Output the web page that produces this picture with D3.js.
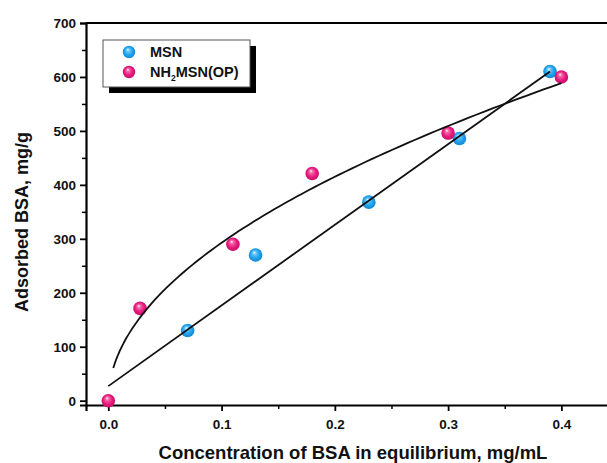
<!DOCTYPE html>
<html>
<head>
<meta charset="utf-8">
<script src="https://cdn.jsdelivr.net/npm/d3@7"></script>
<style>
  body { margin: 0; background: #fff; }
  text { font-family: "Liberation Sans", Arial, sans-serif; font-weight: bold; }
</style>
</head>
<body>
<script>
// values
const msnX = [0.07, 0.13, 0.23, 0.31, 0.39];
const msnY = [130, 270, 368, 486, 610];
const nhX = [0.0, 0.028, 0.11, 0.18, 0.30, 0.40];
const nhY = [0, 171, 290, 421, 496, 600];
// fit lines as drawn: linear a + b*x, power K*x^n
const msnFit = [27, 1495];
const msnFitRange = [0.0, 0.39];
const nhFit = [934, 0.504];
const nhFitRange = [0.0044, 0.40];
const xTicks = [0.0, 0.1, 0.2, 0.3, 0.4];
const yTicks = [0, 100, 200, 300, 400, 500, 600, 700];

const W = 607, H = 463;
const margin = { top: 23, right: -11, bottom: 58, left: 86 };
const width = W - margin.left - margin.right;
const height = H - margin.top - margin.bottom;

const svg = d3.select('body').append('svg')
    .attr('width', W)
    .attr('height', H);

const defs = svg.append('defs');
function ball(id, light, mid, dark) {
    const g = defs.append('radialGradient').attr('id', id)
        .attr('cx', '50%').attr('cy', '50%').attr('r', '55%')
        .attr('fx', '40%').attr('fy', '30%');
    g.append('stop').attr('offset', '0%').attr('stop-color', '#ffffff');
    g.append('stop').attr('offset', '22%').attr('stop-color', light);
    g.append('stop').attr('offset', '60%').attr('stop-color', mid);
    g.append('stop').attr('offset', '100%').attr('stop-color', dark);
}
ball('gBlue', '#6cc8fa', '#1ea3ee', '#1381c9');
ball('gPink', '#f46aa9', '#e81a80', '#c40c64');

const g = svg.append('g')
    .attr('transform', `translate(${margin.left}, ${margin.top})`);

const x = d3.scaleLinear().domain([-0.0197, 0.45]).range([0, width]);
const y = d3.scaleLinear().domain([-8, 700]).range([height, 0]);

// minor ticks
g.append('g').attr('transform', `translate(0, ${height})`)
    .call(d3.axisBottom(x).tickValues([0.05, 0.15, 0.25, 0.35]).tickSize(4).tickFormat(''))
    .call(a => a.select('.domain').remove())
    .selectAll('line').attr('stroke-width', 1.5);
g.append('g')
    .call(d3.axisLeft(y).tickValues([50, 150, 250, 350, 450, 550, 650]).tickSize(4).tickFormat(''))
    .call(a => a.select('.domain').remove())
    .selectAll('line').attr('stroke-width', 1.5);

const xAxis = g.append('g').attr('transform', `translate(0, ${height})`)
    .call(d3.axisBottom(x).tickValues(xTicks).tickSize(6).tickPadding(8).tickFormat(d3.format('.1f')));
const yAxis = g.append('g')
    .call(d3.axisLeft(y).tickValues(yTicks).tickSize(6).tickPadding(4));
[xAxis, yAxis].forEach(a => {
    a.select('.domain').attr('stroke-width', 2.2);
    a.selectAll('.tick line').attr('stroke-width', 1.8);
    a.selectAll('text').attr('font-size', 13.5).attr('fill', '#111');
});

// top frame
g.append('line')
    .attr('x1', 0).attr('x2', width).attr('y1', 0).attr('y2', 0)
    .attr('stroke', '#000').attr('stroke-width', 2.2);

// points
const msn = msnX.map((v, i) => ({ x: v, y: msnY[i] }));
const nh = nhX.map((v, i) => ({ x: v, y: nhY[i] }));

g.selectAll('.msn').data(msn).enter().append('circle')
    .attr('class', 'msn')
    .attr('cx', d => x(d.x)).attr('cy', d => y(d.y)).attr('r', 6.8)
    .attr('fill', 'url(#gBlue)');
g.selectAll('.nh').data(nh).enter().append('circle')
    .attr('class', 'nh')
    .attr('cx', d => x(d.x)).attr('cy', d => y(d.y)).attr('r', 6.8)
    .attr('fill', 'url(#gPink)');

// fit lines
const line = d3.line().x(d => x(d[0])).y(d => y(d[1]));
g.append('path')
    .attr('d', line(msnFitRange.map(v => [v, msnFit[0] + msnFit[1] * v])))
    .attr('fill', 'none').attr('stroke', '#111').attr('stroke-width', 1.8);
const nhCurve = d3.range(0, 101).map(i => {
    const v = nhFitRange[0] + (nhFitRange[1] - nhFitRange[0]) * Math.pow(i / 100, 2);
    return [v, nhFit[0] * Math.pow(v, nhFit[1])];
});
g.append('path')
    .attr('d', d3.line().x(d => x(d[0])).y(d => y(d[1])).curve(d3.curveMonotoneX)(nhCurve))
    .attr('fill', 'none').attr('stroke', '#111').attr('stroke-width', 1.8);

// legend
const lg = svg.append('g').attr('transform', 'translate(103, 40)');
lg.append('rect').attr('x', 6).attr('y', 6).attr('width', 147).attr('height', 47).attr('fill', '#000');
lg.append('rect').attr('x', 0).attr('y', 0).attr('width', 147).attr('height', 47)
    .attr('fill', '#fff').attr('stroke', '#555').attr('stroke-width', 1);
const items = [
    { fill: 'url(#gBlue)', label: 'MSN' },
    { fill: 'url(#gPink)', label: 'NH|2|MSN(OP)' }
];
items.forEach((it, i) => {
    const cy = 12 + i * 20;
    lg.append('circle').attr('cx', 26).attr('cy', cy).attr('r', 6.2).attr('fill', it.fill);
    const t = lg.append('text').attr('x', 47).attr('y', cy + 5)
        .attr('font-size', 14.5).attr('fill', '#111');
    const parts = it.label.split('|');
    t.append('tspan').text(parts[0]);
    if (parts.length > 1) {
        t.append('tspan').attr('dy', 4).attr('font-size', 8.5).text(parts[1]);
        t.append('tspan').attr('dy', -4).text(parts[2]);
    }
});

// axis titles
svg.append('text')
    .attr('x', 353).attr('y', 459)
    .attr('text-anchor', 'middle').attr('font-size', 18.5).attr('fill', '#111')
    .text('Concentration of BSA in equilibrium, mg/mL');
svg.append('text')
    .attr('transform', 'translate(28, 222) rotate(-90)')
    .attr('text-anchor', 'middle').attr('font-size', 18).attr('fill', '#111')
    .text('Adsorbed BSA, mg/g');
</script>
</body>
</html>
